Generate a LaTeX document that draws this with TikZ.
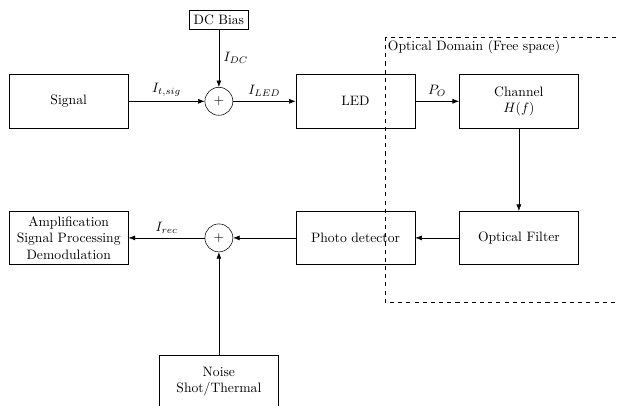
\documentclass[tikz,border=0pt]{standalone}
\usetikzlibrary{arrows.meta,positioning}

\begin{document}
\begin{tikzpicture}[>=Latex,
    block/.style={draw, minimum width=3.07cm, minimum height=1.37cm, align=center},
    summer/.style={draw, circle, minimum size=0.72cm, inner sep=0pt}]
  \clip (0,0) rectangle (15.95,-10.44);

  % transmitter side
  \node[block] (signal) at (1.77,-2.61) {Signal};
  \node[summer] (sum1) at (5.64,-2.61) {$+$};
  \node[draw] (dcbias) at (5.64,-0.50) {DC Bias};
  \node[block] (led) at (9.16,-2.61) {LED};
  \node[block] (channel) at (13.37,-2.61) {Channel\\$H(f)$};

  % receiver side
  \node[block] (filter) at (13.37,-6.13) {Optical Filter};
  \node[block] (detector) at (9.16,-6.13) {Photo detector};
  \node[summer] (sum2) at (5.64,-6.13) {$+$};
  \node[block] (amp) at (1.77,-6.13) {Amplification\\Signal Processing\\Demodulation};
  \node[block] (noise) at (5.64,-9.835) {Noise\\Shot/Thermal};

  \draw[->] (signal) -- (sum1) node[midway, above] {$I_{t,sig}$};
  \draw[->] (dcbias) -- (sum1) node[midway, right] {$I_{DC}$};
  \draw[->] (sum1) -- (led) node[midway, above] {$I_{LED}$};
  \draw[->] (led) -- (channel) node[midway, above] {$P_O$};
  \draw[->] (channel) -- (filter);
  \draw[->] (filter) -- (detector);
  \draw[->] (detector) -- (sum2);
  \draw[->] (noise) -- (sum2);
  \draw[->] (sum2) -- (amp) node[midway, above] {$I_{rec}$};

  % optical domain
  \draw[dashed] (9.92,-0.95) coordinate (dom) rectangle (16.4,-7.78);
  \node[anchor=north west, inner sep=2pt] at (dom) {Optical Domain (Free space)};
\end{tikzpicture}
\end{document}
